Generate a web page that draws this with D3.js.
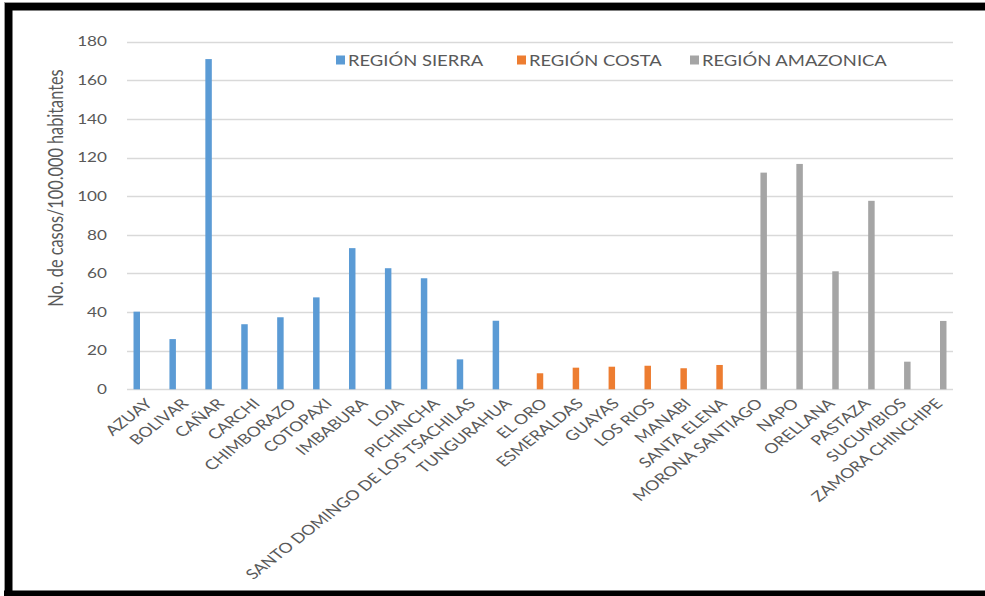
<!DOCTYPE html>
<html>
<head>
<meta charset="utf-8">
<script src="https://cdn.jsdelivr.net/npm/d3@7"></script>
<style>
  html, body { margin: 0; padding: 0; background: #fff; }
  svg { display: block; }
  text { font-family: Lato, "Open Sans", sans-serif; fill: #595959; }
</style>
</head>
<body>
<svg id="chart" width="985" height="596"></svg>
<script>
const categories = ["AZUAY","BOLIVAR","CAÑAR","CARCHI","CHIMBORAZO","COTOPAXI","IMBABURA","LOJA","PICHINCHA","SANTO DOMINGO DE LOS TSACHILAS","TUNGURAHUA","EL ORO","ESMERALDAS","GUAYAS","LOS RIOS","MANABI","SANTA ELENA","MORONA SANTIAGO","NAPO","ORELLANA","PASTAZA","SUCUMBIOS","ZAMORA CHINCHIPE"];
const seriesNames = ["REGIÓN SIERRA","REGIÓN COSTA","REGIÓN AMAZONICA"];
const sierra = [40.2,26,171,33.7,37.3,47.6,73.1,62.7,57.5,15.5,35.5,null,null,null,null,null,null,null,null,null,null,null,null];
const costa = [null,null,null,null,null,null,null,null,null,null,null,8.3,11.2,11.7,12.2,10.9,12.6,null,null,null,null,null,null];
const amazonica = [null,null,null,null,null,null,null,null,null,null,null,null,null,null,null,null,null,112.2,116.7,61.1,97.6,14.3,35.4];
const yTicks = [0,20,40,60,80,100,120,140,160,180];
const yTitle = "No. de casos/100.000 habitantes";
const colors = ["#5B9BD5","#ED7D31","#A5A5A5"];

const SX = 1.27; // horizontal text stretch of the source picture
const svg = d3.select("#chart");

// frame
svg.append("rect").attr("x",0).attr("y",0).attr("width",985).attr("height",596).attr("fill","#fff");
svg.append("rect").attr("x",4).attr("y",2).attr("width",981).attr("height",1).attr("fill","#9a9a9a");
svg.append("rect").attr("x",4).attr("y",3).attr("width",981).attr("height",7.5).attr("fill","#000");
svg.append("rect").attr("x",4).attr("y",2).attr("width",1).attr("height",594).attr("fill","#9a9a9a");
svg.append("rect").attr("x",5).attr("y",3).attr("width",7.5).attr("height",593).attr("fill","#000");
svg.append("rect").attr("x",4).attr("y",590.5).attr("width",981).attr("height",6).attr("fill","#000");

const x0 = d3.scaleBand().domain(categories).range([127, 953]).paddingInner(0.315).paddingOuter(0.1575);
const x1 = d3.scaleBand().domain(seriesNames).range([0, x0.bandwidth()]).paddingInner(0.21).paddingOuter(0.105);
const y = d3.scaleLinear().domain([0,180]).range([389.3, 41.7]);

// grid
svg.append("g").selectAll("line").data(yTicks).join("line")
  .attr("x1",127).attr("x2",953)
  .attr("y1",d=>Math.round(y(d))+0.5).attr("y2",d=>Math.round(y(d))+0.5)
  .attr("stroke","#D9D9D9").attr("stroke-width",1.3);

// y labels
svg.append("g").selectAll("text").data(yTicks).join("text")
  .attr("transform",d=>`translate(107,${y(d)}) scale(${SX},1)`)
  .attr("text-anchor","end").attr("dy","0.35em")
  .style("font-size","13.5px").text(d=>d);

// y title
svg.append("text")
  .attr("transform",`translate(63,188) scale(${SX},1) rotate(-90)`)
  .attr("text-anchor","middle")
  .style("font-size","16.3px").text(yTitle);

// bars
const allSeries = [sierra, costa, amazonica];
allSeries.forEach((vals,si)=>{
  const data = categories.map((c,i)=>({c, v: vals[i]})).filter(d=>d.v!=null);
  svg.append("g").selectAll("rect").data(data).join("rect")
    .attr("x",d=>x0(d.c)+x1(seriesNames[si]))
    .attr("width",x1.bandwidth())
    .attr("y",d=>y(d.v))
    .attr("height",d=>y(0)-y(d.v))
    .attr("fill",colors[si]);
});

// x labels
svg.append("g").selectAll("text").data(categories).join("text")
  .attr("transform",d=>`translate(${x0(d)+x0.bandwidth()/2+4},${401}) scale(${SX},1) rotate(-45)`)
  .attr("text-anchor","end").attr("dy","0.35em")
  .style("font-size","14px").text(d=>d);

// legend
const legendX = [336, 517, 690];
const lg = svg.append("g");
seriesNames.forEach((s,i)=>{
  lg.append("rect").attr("x",legendX[i]).attr("y",55.5).attr("width",9).attr("height",9).attr("fill",colors[i]);
  lg.append("text").attr("transform",`translate(${legendX[i]+12},${60.5}) scale(${SX},1)`)
    .attr("dy","0.35em").style("font-size","14.5px").text(s);
});
</script>
</body>
</html>
